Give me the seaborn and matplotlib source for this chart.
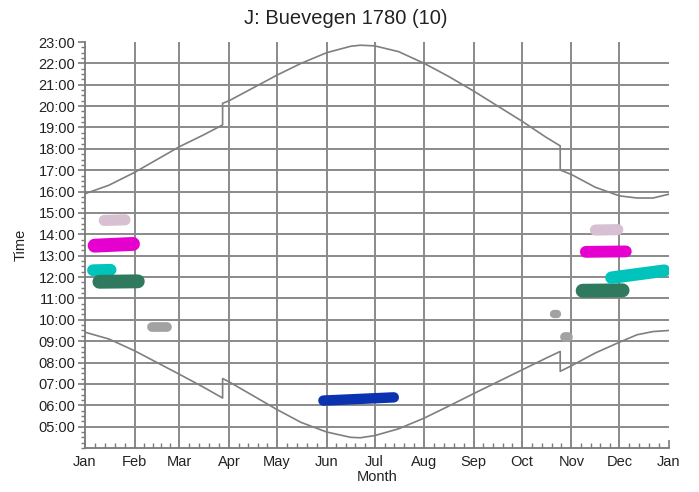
import numpy as np
import pandas as pd
import matplotlib
matplotlib.use("Agg")
import matplotlib.pyplot as plt
import seaborn as sns
from matplotlib.ticker import FixedLocator

# month starts (day of year) and labels
month_days = [0, 31, 59, 90, 120, 151, 181, 212, 243, 273, 304, 334, 365]
month_labels = ["Jan", "Feb", "Mar", "Apr", "May", "Jun", "Jul", "Aug",
                "Sep", "Oct", "Nov", "Dec", "Jan"]
hours = list(range(5, 24))
hour_labels = [f"{h:02d}:00" for h in hours]

# sunrise / sunset (hours), daylight-saving jumps included
sun_days = [0, 15, 31, 45, 59, 74, 86, 86, 90, 105, 120, 135, 151, 166, 172,
            181, 196, 212, 227, 243, 258, 273, 288, 297, 297, 304, 319, 334,
            345, 355, 365]
sunrise = [9.42, 9.1, 8.55, 8.0, 7.45, 6.85, 6.34, 7.25, 7.1, 6.45, 5.8, 5.2,
           4.75, 4.5, 4.48, 4.58, 4.9, 5.4, 5.95, 6.55, 7.1, 7.65, 8.2, 8.52,
           7.59, 7.85, 8.45, 8.95, 9.3, 9.45, 9.5]
sunset = [15.9, 16.3, 16.9, 17.5, 18.1, 18.65, 19.12, 20.13, 20.25, 20.85,
          21.45, 22.0, 22.5, 22.8, 22.85, 22.82, 22.55, 22.0, 21.4, 20.7, 20.0,
          19.3, 18.55, 18.14, 17.01, 16.8, 16.2, 15.8, 15.7, 15.7, 15.88]

# shadow periods (day range, time range, colour)
blob_day_start = [12, 6, 5, 9, 42, 149, 293, 300, 311, 313, 319, 329]
blob_day_end = [25, 30, 16, 33, 51, 193, 295, 302, 336, 338, 333, 362]
blob_time_start = [14.65, 13.47, 12.32, 11.78, 9.68, 6.22, 10.25, 9.2, 11.36,
                   13.18, 14.2, 11.97]
blob_time_end = [14.68, 13.55, 12.34, 11.8, 9.68, 6.37, 10.25, 9.2, 11.38,
                 13.2, 14.22, 12.3]
blob_color = ["#d6c0d2", "#e600d0", "#00c4bc", "#2f7a5e", "#a2a2a2", "#0b32b0",
              "#a2a2a2", "#a2a2a2", "#2f7a5e", "#e600d0", "#d6c0d2", "#00c4bc"]
blob_width = [8, 10, 8.5, 10, 7, 7.5, 6, 7, 10, 8.5, 8, 9]

sns.set_style("white")
plt.rcParams["font.family"] = ["Liberation Sans", "DejaVu Sans"]

fig = plt.figure(figsize=(6.99, 4.92), dpi=100)
ax = fig.add_axes([0.1216, 0.0894, 0.8355, 0.8252])

grid_kw = dict(color="#8a8a8a", lw=1.4, zorder=1)
for h in hours[:-1]:
    ax.axhline(h, **grid_kw)
for d in month_days[1:-1]:
    ax.axvline(d, **grid_kw)

sun = pd.DataFrame({"day": sun_days, "rise": sunrise, "set": sunset})
for col in ["rise", "set"]:
    sns.lineplot(data=sun, x="day", y=col, estimator=None, sort=False,
                 color="#7f7f7f", lw=1.2, ax=ax, zorder=2)

for d0, d1, t0, t1, c, w in zip(blob_day_start, blob_day_end, blob_time_start,
                                blob_time_end, blob_color, blob_width):
    seg = pd.DataFrame({"day": [d0, d1], "t": [t0, t1]})
    sns.lineplot(data=seg, x="day", y="t", estimator=None, sort=False,
                 color=c, lw=w, solid_capstyle="round", ax=ax, zorder=3)

ax.set_xlim(0, 365)
ax.set_ylim(4, 23)
ax.set_xticks(month_days)
ax.set_xticklabels(month_labels)
ax.set_yticks(hours)
ax.set_yticklabels(hour_labels)

minor_x = []
for a, b in zip(month_days[:-1], month_days[1:]):
    minor_x += list(np.linspace(a, b, 6)[1:-1])
ax.xaxis.set_minor_locator(FixedLocator(minor_x))
ax.yaxis.set_minor_locator(FixedLocator(np.arange(4, 23.01, 0.25)))

ax.tick_params(axis="x", which="major", direction="in", length=6, width=1.2,
               color="#7a7a7a", labelsize=10.5, labelcolor="#222222", pad=5,
               bottom=True)
ax.tick_params(axis="x", which="minor", direction="in", length=3.5, width=1,
               color="#7a7a7a", bottom=True)
ax.tick_params(axis="y", which="major", direction="out", length=5, width=1.2,
               color="#7a7a7a", labelsize=10.5, labelcolor="#222222", pad=2,
               left=True)
ax.tick_params(axis="y", which="minor", direction="out", length=3, width=1,
               color="#7a7a7a", left=True)

for s in ["top", "right"]:
    ax.spines[s].set_visible(False)
for s in ["left", "bottom"]:
    ax.spines[s].set_color("#7a7a7a")
    ax.spines[s].set_linewidth(1.3)

ax.set_xlabel("Month", fontsize=10.5, color="#222222", labelpad=1)
ax.set_ylabel("Time", fontsize=10.5, color="#222222", labelpad=8)
fig.text(0.494, 0.962, "J: Buevegen 1780 (10)", ha="center", va="center",
         fontsize=14.5, color="#222222")

fig.savefig("out.png", dpi=100)
